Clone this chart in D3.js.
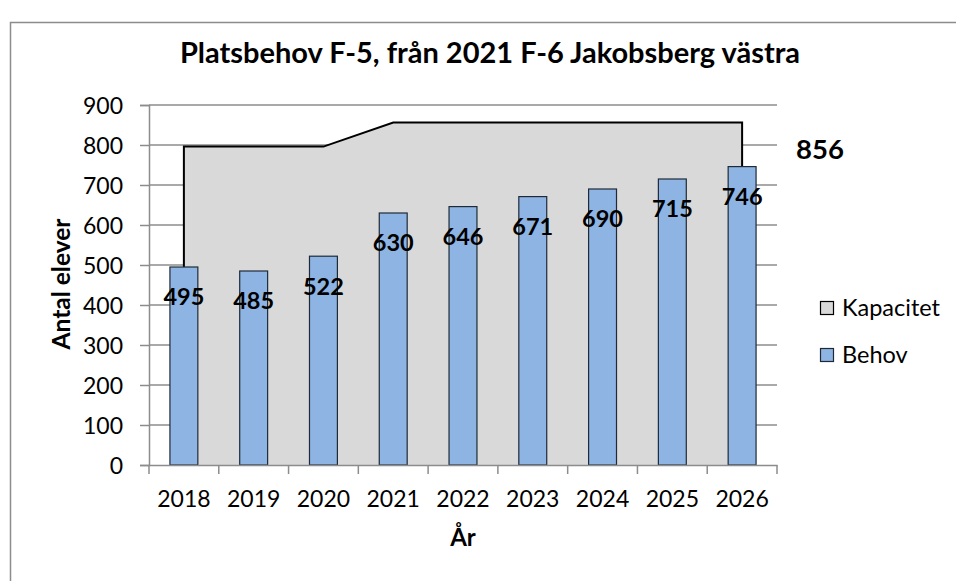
<!DOCTYPE html>
<html>
<head>
<meta charset="utf-8">
<script src="https://cdn.jsdelivr.net/npm/d3@7"></script>
<style>
  body { margin: 0; background: #fff; }
  text { font-family: Lato, "Open Sans", sans-serif; }
</style>
</head>
<body>
<div id="chart"></div>
<script>
// data
var years = ["2018", "2019", "2020", "2021", "2022", "2023", "2024", "2025", "2026"];
var behov = [495, 485, 522, 630, 646, 671, 690, 715, 746];
var kapacitet = [796, 796, 796, 856, 856, 856, 856, 856, 856];
var yTicks = [0, 100, 200, 300, 400, 500, 600, 700, 800, 900];

var svgWidth = 956;
var svgHeight = 581;

var margin = { top: 105, left: 149, right: 179, bottom: 116 };
var width = svgWidth - margin.left - margin.right;
var height = svgHeight - margin.top - margin.bottom;

var svg = d3.select("#chart")
    .append("svg")
    .attr("width", svgWidth)
    .attr("height", svgHeight);

// outer frame
svg.append("rect")
    .attr("x", 10.5)
    .attr("y", 22.5)
    .attr("width", 980)
    .attr("height", 600)
    .attr("fill", "none")
    .attr("stroke", "#8c8c8c")
    .attr("stroke-width", 1.5);

// title
svg.append("text")
    .attr("x", 490)
    .attr("y", 63)
    .attr("text-anchor", "middle")
    .style("font-size", "29px")
    .style("font-weight", "bold")
    .text("Platsbehov F-5, från 2021 F-6 Jakobsberg västra");

var chartGroup = svg.append("g")
    .attr("transform", `translate(${margin.left}, ${margin.top})`);

// scales
var xScale = d3.scaleBand()
    .domain(years)
    .range([0, width])
    .padding(0);

var yScale = d3.scaleLinear()
    .domain([0, 900])
    .range([height, 0]);

var xCenter = d => xScale(d) + xScale.bandwidth() / 2;
var barWidth = xScale.bandwidth() * 0.4;

// gridlines
chartGroup.append("g")
    .selectAll("line")
    .data(yTicks.slice(1))
    .enter()
    .append("line")
    .attr("x1", 0)
    .attr("x2", width)
    .attr("y1", d => yScale(d))
    .attr("y2", d => yScale(d))
    .attr("stroke", "#8c8c8c")
    .attr("stroke-width", 1.5);

// kapacitet area
var capData = years.map((y, i) => ({ year: y, value: kapacitet[i] }));

var area = d3.area()
    .x(d => xCenter(d.year))
    .y0(yScale(0))
    .y1(d => yScale(d.value));

chartGroup.append("path")
    .datum(capData)
    .attr("d", area)
    .attr("fill", "#d9d9d9");

var outline = [{ year: years[0], value: 0 }].concat(capData, [{ year: years[years.length - 1], value: 0 }]);

chartGroup.append("path")
    .datum(outline)
    .attr("d", d3.line().x(d => xCenter(d.year)).y(d => yScale(d.value)))
    .attr("fill", "none")
    .attr("stroke", "#000")
    .attr("stroke-width", 2);

// behov bars
var barData = years.map((y, i) => ({ year: y, value: behov[i] }));

chartGroup.selectAll("rect.bar")
    .data(barData)
    .enter()
    .append("rect")
    .classed("bar", true)
    .attr("x", d => xCenter(d.year) - barWidth / 2)
    .attr("y", d => yScale(d.value))
    .attr("width", barWidth)
    .attr("height", d => yScale(0) - yScale(d.value))
    .attr("fill", "#8eb4e3")
    .attr("stroke", "#1f2a38")
    .attr("stroke-width", 1.2);

// axes
var leftAxis = d3.axisLeft(yScale)
    .tickValues(yTicks)
    .tickSize(9)
    .tickPadding(17);

var yAxis = chartGroup.append("g")
    .call(leftAxis);

var bottomAxis = d3.axisBottom(xScale)
    .tickSize(0)
    .tickPadding(26);

var xAxis = chartGroup.append("g")
    .attr("transform", `translate(0, ${height})`)
    .call(bottomAxis);

// x ticks at band edges
xAxis.append("g")
    .selectAll("line")
    .data(d3.range(years.length + 1))
    .enter()
    .append("line")
    .attr("x1", i => i * xScale.bandwidth())
    .attr("x2", i => i * xScale.bandwidth())
    .attr("y1", 0)
    .attr("y2", 9)
    .attr("stroke", "#8c8c8c")
    .attr("stroke-width", 1.5);

[yAxis, xAxis].forEach(function (ax) {
    ax.selectAll(".domain, .tick line")
        .attr("stroke", "#8c8c8c")
        .attr("stroke-width", 1.5);
    ax.selectAll("text")
        .style("font-size", "23px")
        .style("font-family", "Lato, sans-serif")
        .attr("fill", "#000");
});
yAxis.selectAll(".tick text").attr("dy", "0.36em");

// data labels
chartGroup.selectAll("text.barLabel")
    .data(barData)
    .enter()
    .append("text")
    .classed("barLabel", true)
    .attr("x", d => xCenter(d.year))
    .attr("y", d => yScale(d.value) + 30)
    .attr("dy", "0.36em")
    .attr("text-anchor", "middle")
    .style("font-size", "23.5px")
    .style("font-weight", "bold")
    .text(d => d.value);

chartGroup.append("text")
    .attr("x", width + 43)
    .attr("y", yScale(kapacitet[kapacitet.length - 1]) + 26)
    .attr("dy", "0.36em")
    .attr("text-anchor", "middle")
    .style("font-size", "27.5px")
    .style("font-weight", "bold")
    .text(kapacitet[kapacitet.length - 1]);

// axis titles
svg.append("text")
    .attr("transform", "translate(70, 284) rotate(-90)")
    .attr("text-anchor", "middle")
    .style("font-size", "24.5px")
    .style("font-weight", "bold")
    .text("Antal elever");

svg.append("text")
    .attr("x", margin.left + width / 2)
    .attr("y", 546)
    .attr("text-anchor", "middle")
    .style("font-size", "24px")
    .style("font-weight", "bold")
    .text("År");

// legend
var legendItems = [
    { name: "Kapacitet", fill: "#d9d9d9", stroke: "#000" },
    { name: "Behov", fill: "#8eb4e3", stroke: "#1f2a38" }
];

var legend = svg.append("g")
    .attr("transform", "translate(820, 301)");

var legendRow = legend.selectAll("g")
    .data(legendItems)
    .enter()
    .append("g")
    .attr("transform", (d, i) => `translate(0, ${i * 47})`);

legendRow.append("rect")
    .attr("x", 0.5)
    .attr("y", 0.5)
    .attr("width", 13)
    .attr("height", 13)
    .attr("fill", d => d.fill)
    .attr("stroke", d => d.stroke)
    .attr("stroke-width", 1.2);

legendRow.append("text")
    .attr("x", 22)
    .attr("y", 15)
    .style("font-size", "23.5px")
    .text(d => d.name);
</script>
</body>
</html>
